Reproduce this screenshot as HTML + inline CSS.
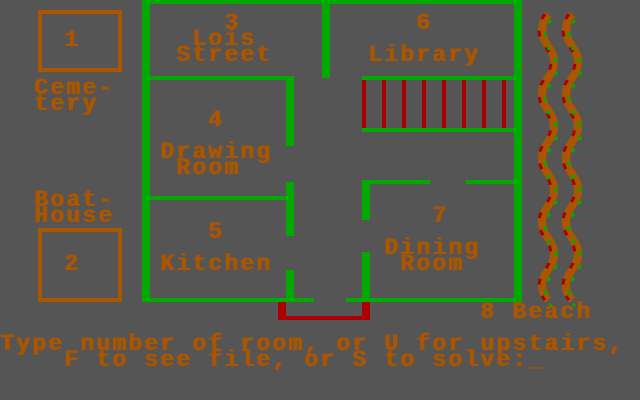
<!DOCTYPE html>
<html><head><style>
body{margin:0;background:#555;}
#c{position:relative;width:640px;height:400px;background:#555;overflow:hidden;}
.g{position:absolute;background:#00aa00;}
.r{position:absolute;background:#aa0000;}
.t{position:absolute;font-family:"Liberation Mono",monospace;font-weight:bold;font-size:23px;letter-spacing:2.2px;line-height:16px;color:#aa5500;white-space:pre;text-shadow:1px 0 0 #aa5500;}
.box{position:absolute;border:4px solid #aa5500;box-sizing:border-box;}
</style></head><body><div id="c">
<div class="g" style="left:142px;top:0;width:8px;height:302px"></div>
<div class="g" style="left:142px;top:0;width:380px;height:4px"></div>
<div class="g" style="left:514px;top:0;width:8px;height:302px"></div>
<div class="g" style="left:142px;top:298px;width:172px;height:4px"></div>
<div class="g" style="left:346px;top:298px;width:176px;height:4px"></div>
<div class="g" style="left:322px;top:0;width:8px;height:78px"></div>
<div class="g" style="left:142px;top:76px;width:152px;height:4px"></div>
<div class="g" style="left:286px;top:76px;width:8px;height:70px"></div>
<div class="g" style="left:286px;top:182px;width:8px;height:54px"></div>
<div class="g" style="left:286px;top:270px;width:8px;height:30px"></div>
<div class="g" style="left:142px;top:196px;width:148px;height:4px"></div>
<div class="g" style="left:362px;top:76px;width:152px;height:4px"></div>
<div class="g" style="left:362px;top:128px;width:152px;height:4px"></div>
<div class="r" style="left:362px;top:80px;width:4px;height:48px"></div>
<div class="r" style="left:382px;top:80px;width:4px;height:48px"></div>
<div class="r" style="left:402px;top:80px;width:4px;height:48px"></div>
<div class="r" style="left:422px;top:80px;width:4px;height:48px"></div>
<div class="r" style="left:442px;top:80px;width:4px;height:48px"></div>
<div class="r" style="left:462px;top:80px;width:4px;height:48px"></div>
<div class="r" style="left:482px;top:80px;width:4px;height:48px"></div>
<div class="r" style="left:502px;top:80px;width:4px;height:48px"></div>
<div class="g" style="left:362px;top:180px;width:68px;height:4px"></div>
<div class="g" style="left:466px;top:180px;width:48px;height:4px"></div>
<div class="g" style="left:362px;top:180px;width:8px;height:40px"></div>
<div class="g" style="left:362px;top:252px;width:8px;height:48px"></div>
<div class="r" style="left:278px;top:302px;width:8px;height:18px"></div>
<div class="r" style="left:362px;top:302px;width:8px;height:18px"></div>
<div class="r" style="left:278px;top:316px;width:92px;height:4px"></div>
<div class="box" style="left:38px;top:10px;width:84px;height:62px"></div>
<div class="box" style="left:38px;top:228px;width:84px;height:74px"></div>
<svg style="position:absolute;left:530px;top:0" width="70" height="310">
<defs>
<path id="w" d="M18 14 Q6 30 18 46 Q30 62 18 78 Q6 94 18 110 Q30 126 18 142 Q6 158 18 174 Q30 190 18 206 Q6 222 18 238 Q30 254 18 270 Q6 286 18 300"/>
</defs>
<g fill="none">
<use href="#w" stroke="#aa5500" stroke-width="8"/>
<use href="#w" stroke="#aa0000" stroke-width="3" stroke-dasharray="6 12" transform="translate(-3 0)"/>
<use href="#w" stroke="#00aa00" stroke-width="3" stroke-dasharray="4 10" transform="translate(3 6)"/>
<use href="#w" stroke="#aa5500" stroke-width="8" transform="translate(24 0)"/>
<use href="#w" stroke="#aa0000" stroke-width="3" stroke-dasharray="6 12" transform="translate(21 0)"/>
<use href="#w" stroke="#00aa00" stroke-width="3" stroke-dasharray="4 10" transform="translate(27 6)"/>
</g>
</svg>
<div class="t" style="left:64px;top:32px">1</div>
<div class="t" style="left:34px;top:80px">Ceme-</div>
<div class="t" style="left:34px;top:96px">tery</div>
<div class="t" style="left:34px;top:192px">Boat-</div>
<div class="t" style="left:34px;top:208px">House</div>
<div class="t" style="left:64px;top:256px">2</div>
<div class="t" style="left:224px;top:15px">3</div>
<div class="t" style="left:192px;top:31px">Lois</div>
<div class="t" style="left:176px;top:47px">Street</div>
<div class="t" style="left:416px;top:15px">6</div>
<div class="t" style="left:368px;top:47px">Library</div>
<div class="t" style="left:208px;top:112px">4</div>
<div class="t" style="left:160px;top:144px">Drawing</div>
<div class="t" style="left:176px;top:160px">Room</div>
<div class="t" style="left:208px;top:224px">5</div>
<div class="t" style="left:160px;top:256px">Kitchen</div>
<div class="t" style="left:432px;top:208px">7</div>
<div class="t" style="left:384px;top:240px">Dining</div>
<div class="t" style="left:400px;top:256px">Room</div>
<div class="t" style="left:480px;top:304px">8 Beach</div>
<div class="t" style="left:0px;top:336px">Type number of room, or U for upstairs,</div>
<div class="t" style="left:64px;top:352px">F to see file, or S to solve:_</div>
</div></body></html>
